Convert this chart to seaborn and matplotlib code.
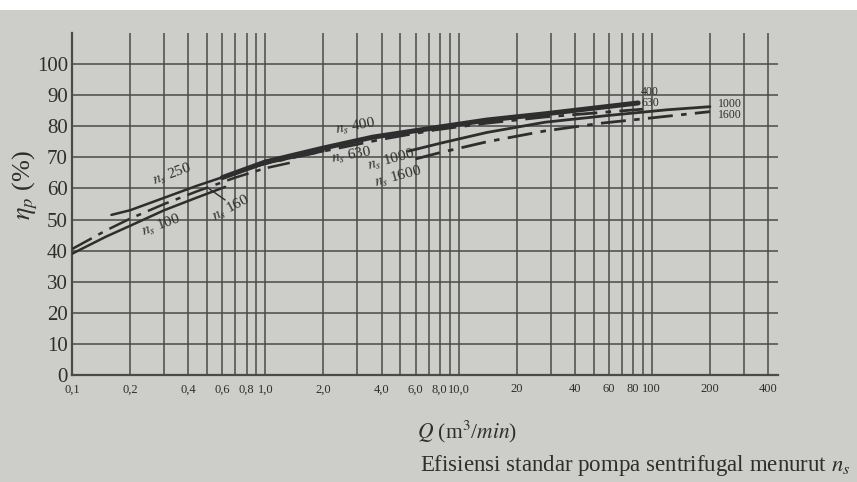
import pandas as pd
import matplotlib
matplotlib.use("Agg")
import matplotlib.pyplot as plt
import seaborn as sns
from matplotlib.patches import Rectangle
from matplotlib.ticker import NullLocator

sns.set_theme(style="white")
plt.rcParams['font.family'] = ['Liberation Serif', 'DejaVu Serif']
plt.rcParams['mathtext.fontset'] = 'stix'

# Efficiency curves: Q (m3/min) -> eta_p (%)
q_ns100 = [0.1, 0.15, 0.2, 0.3, 0.44, 0.62]
eta_ns100 = [39, 44.5, 48, 53, 57, 60.5]
q_ns160 = [0.1, 0.15, 0.2, 0.3, 0.44, 0.7, 1.0, 1.4]
eta_ns160 = [40.5, 46.5, 50.3, 55, 59, 63.5, 66.5, 68.5]
q_ns250 = [0.16, 0.2, 0.3, 0.44, 0.7, 1.0, 1.4, 2.0]
eta_ns250 = [51.5, 53, 57, 60.8, 65, 68, 70, 72]
q_ns400 = [0.6, 1.0, 1.4, 2.0, 3.6, 7.5, 14, 28, 85]
eta_ns400 = [63.5, 68.5, 70.7, 73, 76.5, 79.5, 82, 84, 87.5]
q_ns630 = [0.8, 1.0, 2.0, 4.0, 7.5, 14, 28, 90]
eta_ns630 = [66.5, 68, 72, 75.8, 78.8, 81, 83, 85.5]
q_ns1000 = [5.5, 8, 14, 28, 60, 120, 200]
eta_ns1000 = [72, 74.5, 78, 81.3, 83.5, 85.3, 86.3]
q_ns1600 = [6, 8, 14, 28, 55, 100, 200]
eta_ns1600 = [69.5, 71.5, 75, 78.5, 81, 82.7, 84.7]

# axis ticks
x_ticks = [0.1, 0.2, 0.4, 0.6, 0.8, 1.0, 2.0, 4.0, 6.0, 8.0, 10.0, 20, 40, 60, 80, 100, 200, 400]
x_labels = ['0,1', '0,2', '0,4', '0,6', '0,8', '1,0', '2,0', '4,0', '6,0', '8,0', '10,0',
            '20', '40', '60', '80', '100', '200', '400']
y_ticks = [0, 10, 20, 30, 40, 50, 60, 70, 80, 90, 100]
v_grid = [m * d for d in [0.1, 1, 10] for m in range(1, 10)] + [100, 200, 300, 400]

paper = '#cdcec9'
ink = '#2e2e2e'
grid_c = '#4a4a4a'
dashdot = (0, (9, 3, 2, 3))

curves = [
    ('100', q_ns100, eta_ns100, '-', 1.8),
    ('160', q_ns160, eta_ns160, dashdot, 1.8),
    ('250', q_ns250, eta_ns250, '-', 1.8),
    ('400', q_ns400, eta_ns400, '-', 3.6),
    ('630', q_ns630, eta_ns630, dashdot, 2.0),
    ('1000', q_ns1000, eta_ns1000, '-', 2.0),
    ('1600', q_ns1600, eta_ns1600, dashdot, 2.0),
]
rows = []
for name, q, eta, ls, lw in curves:
    for a, b in zip(q, eta):
        rows.append({'ns': name, 'Q': a, 'eta': b})
df = pd.DataFrame(rows)

fig = plt.figure(figsize=(8.57, 4.82), dpi=100, facecolor=paper)
ax = fig.add_axes([72 / 857, 1 - 375 / 482, (778 - 72) / 857, (375 - 33) / 482])
ax.set_facecolor(paper)
ax.set_xscale('log')
ax.set_xlim(0.1, 450)
ax.set_ylim(0, 110)

# grid
for v in v_grid[1:]:
    ax.axvline(v, color=grid_c, lw=1.1, zorder=1)
for h in y_ticks[1:]:
    ax.axhline(h, color=grid_c, lw=1.1, zorder=1)

for name, q, eta, ls, lw in curves:
    sub = df[df['ns'] == name]
    sns.lineplot(data=sub, x='Q', y='eta', ax=ax, color=ink, lw=lw, linestyle=ls,
                 sort=False, zorder=3)

# curve labels
lab = dict(color=ink, fontsize=11, ha='center', va='center', zorder=4)
ax.text(0.33, 64.5, r'$n_s$ 250', rotation=20, **lab)
ax.text(0.29, 48.0, r'$n_s$ 100', rotation=20, **lab)
ax.text(0.67, 53.5, r'$n_s$ 160', rotation=28, **lab)
ax.plot([0.51, 0.62], [60, 56.3], color=ink, lw=1.0, zorder=4)
ax.text(2.95, 80.0, r'$n_s$ 400', rotation=10, **lab)
ax.text(2.8, 70.5, r'$n_s$ 630', rotation=10, **lab)
ax.text(4.5, 69.3, r'$n_s$ 1000', rotation=15, **lab)
ax.text(4.9, 63.8, r'$n_s$ 1600', rotation=15, **lab)
small = dict(color=ink, fontsize=8.5, ha='left', va='center', zorder=4)
ax.text(88, 91.0, '400', **small)
ax.text(88, 87.4, '630', **small)
ax.text(220, 87.2, '1000', **small)
ax.text(220, 83.5, '1600', **small)

ax.set_xticks(x_ticks)
ax.set_xticklabels(x_labels)
ax.xaxis.set_minor_locator(NullLocator())
ax.set_yticks(y_ticks)
ax.tick_params(axis='both', length=0, colors=ink)
ax.tick_params(axis='x', labelsize=9, pad=6)
ax.tick_params(axis='y', labelsize=15, pad=3)
ax.set_xlabel('')
ax.set_ylabel('')
for s in ['top', 'right']:
    ax.spines[s].set_visible(False)
for s in ['left', 'bottom']:
    ax.spines[s].set_color(grid_c)
    ax.spines[s].set_linewidth(1.6)

fig.text(25 / 857, 1 - 185 / 482, r'$\eta_p$ (%)', rotation=90, fontsize=19,
         color=ink, ha='center', va='center')
fig.text(467 / 857, 1 - 432 / 482, r'$Q$ (m$^3$/$min$)', fontsize=15.5,
         color=ink, ha='center', va='center')
fig.text(420 / 857, 1 - 466 / 482, r'Efisiensi standar pompa sentrifugal menurut $n_s$',
         fontsize=16.5, color=ink, ha='left', va='center')

# white strip along the top edge of the photo
fig.patches.append(Rectangle((0, 1 - 10 / 482), 1, 10 / 482, transform=fig.transFigure,
                             facecolor='white', edgecolor='none', zorder=10))

fig.savefig('out.png', dpi=100, facecolor=fig.get_facecolor())
